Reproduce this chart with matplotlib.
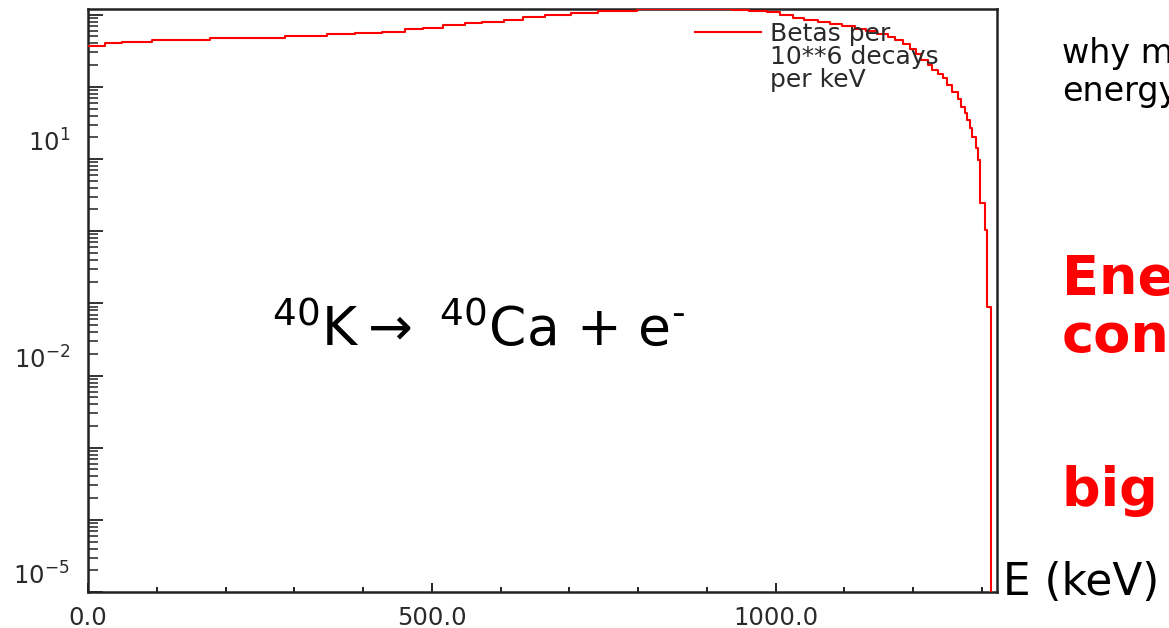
import matplotlib
matplotlib.use("Agg")
import matplotlib.pyplot as plt
from matplotlib.ticker import LogLocator, MultipleLocator, FixedLocator, NullFormatter

# K-40 beta spectrum, betas per 10**6 decays per keV (histogram bin edges in keV)
edges_kev = [0, 25, 49, 93, 177, 286, 347, 388, 427, 461,
             487, 516, 548, 573, 605, 632, 664, 703, 741, 799,
             936, 962, 987, 1006, 1025, 1042, 1061, 1079, 1096, 1115,
             1132, 1148, 1163, 1174, 1185, 1195, 1204, 1212, 1221, 1228,
             1236, 1243, 1250, 1257, 1265, 1270, 1275, 1279, 1283, 1286,
             1291, 1294, 1298, 1304, 1308, 1313]
betas = [363, 404, 418, 440, 469, 500, 540, 562, 581, 634,
         661, 720, 767, 800, 853, 918, 990, 1056, 1125, 1191,
         1162, 1118, 1076, 984, 909, 839, 787, 738, 688, 639,
         590, 545, 495, 450, 396, 338, 288, 238, 203, 173,
         152, 134, 107, 85.5, 68.4, 53, 43.7, 35, 27.1, 20.3,
         14.3, 9.75, 2.47, 1.04, 0.089]

x_major = [0, 500, 1000]
x_labels = ["0.0", "500.0", "1000.0"]
y_labelled = [1e1, 1e-2, 1e-5]
y_labels = [r"$\mathregular{10^{1}}$", r"$\mathregular{10^{-2}}$", r"$\mathregular{10^{-5}}$"]

legend_label = "Betas per\n10**6 decays\nper keV"
reaction = "$^{40}$K$\\rightarrow$ $^{40}$Ca + e$^{\u2010}$"

plt.rcParams["font.family"] = ["DejaVu Sans"]
plt.rcParams["mathtext.fontset"] = "custom"
plt.rcParams["mathtext.rm"] = "DejaVu Sans"
plt.rcParams["mathtext.it"] = "DejaVu Sans"

axis_col = "#222222"
text_col = "#2a2a2a"

W, H = 1169, 628
fig = plt.figure(figsize=(W / 100, H / 100), dpi=100)
fig.patch.set_facecolor("white")
ax = fig.add_axes([88 / W, 36 / H, 909 / W, 583 / H])

# the spectrum: step outline dropping to zero past the endpoint
ax.step(edges_kev, betas + [1e-9], where="post", color="red", lw=1.5, zorder=3,
        label=legend_label)

ax.set_yscale("log")
ax.set_xlim(0, 1322)
ax.set_ylim(1e-5, 10 ** 3.079)

for s in ax.spines.values():
    s.set_color(axis_col)
    s.set_linewidth(1.8)

ax.xaxis.set_major_locator(FixedLocator(x_major))
ax.xaxis.set_minor_locator(MultipleLocator(100))
ax.set_xticklabels(x_labels)
ax.tick_params(axis="x", which="major", direction="in", length=6.5, width=1.4,
               pad=10, labelsize=17.5, labelcolor=text_col, color=axis_col)
ax.tick_params(axis="x", which="minor", direction="in", length=3.6, width=1.4,
               color=axis_col)

ax.yaxis.set_major_locator(LogLocator(base=10, numticks=20))
ax.yaxis.set_minor_locator(LogLocator(base=10, subs=range(2, 10), numticks=20))
ax.yaxis.set_minor_formatter(NullFormatter())
ax.yaxis.set_major_formatter(NullFormatter())
ax.tick_params(axis="y", which="major", direction="in", length=10.8, width=1.3,
               color=axis_col)
ax.tick_params(axis="y", which="minor", direction="in", length=7, width=1.1,
               color=axis_col)

# decade labels sit a little above their ticks
for val, lab in zip(y_labelled, y_labels):
    ax.annotate(lab, xy=(0, val), xycoords=("axes fraction", "data"),
                xytext=(-18, 16), textcoords="offset pixels",
                ha="right", va="center", fontsize=17.5, color=text_col)

leg = ax.legend(loc="upper left", bbox_to_anchor=(0.668, 0.978), frameon=False,
                fontsize=18, handlelength=2.65, handleheight=1.0,
                handletextpad=0.33, labelcolor=text_col,
                borderaxespad=0, borderpad=0)
for t in leg.get_texts():
    t.set_linespacing(0.94)
# keep the sample line level with the first line of the label
for row in leg._legend_handle_box.get_children():
    for pack in row.get_children():
        pack.align = "top"

ax.text(0.2024, 0.4237, reaction, transform=ax.transAxes, fontsize=38.5,
        color="black", va="baseline", ha="left")

# side notes
fig.text(1062 / W, 1 - 63 / H, "why missing", fontsize=24,
         color="black", va="baseline", ha="left")
fig.text(1062 / W, 1 - 101 / H, "energy?", fontsize=24,
         color="black", va="baseline", ha="left")
fig.text(1062 / W, 1 - 294 / H, "Energy not", fontsize=39,
         color="red", fontweight="bold", va="baseline", ha="left")
fig.text(1062 / W, 1 - 352 / H, "conserved?", fontsize=39,
         color="red", fontweight="bold", va="baseline", ha="left")
fig.text(1062 / W, 1 - 506 / H, "big problem", fontsize=39,
         color="red", fontweight="bold", va="baseline", ha="left")
fig.text(1003 / W, 1 - 595 / H, "E (keV)", fontsize=31.5,
         color="black", va="baseline", ha="left")

fig.savefig("out.png", dpi=100)
